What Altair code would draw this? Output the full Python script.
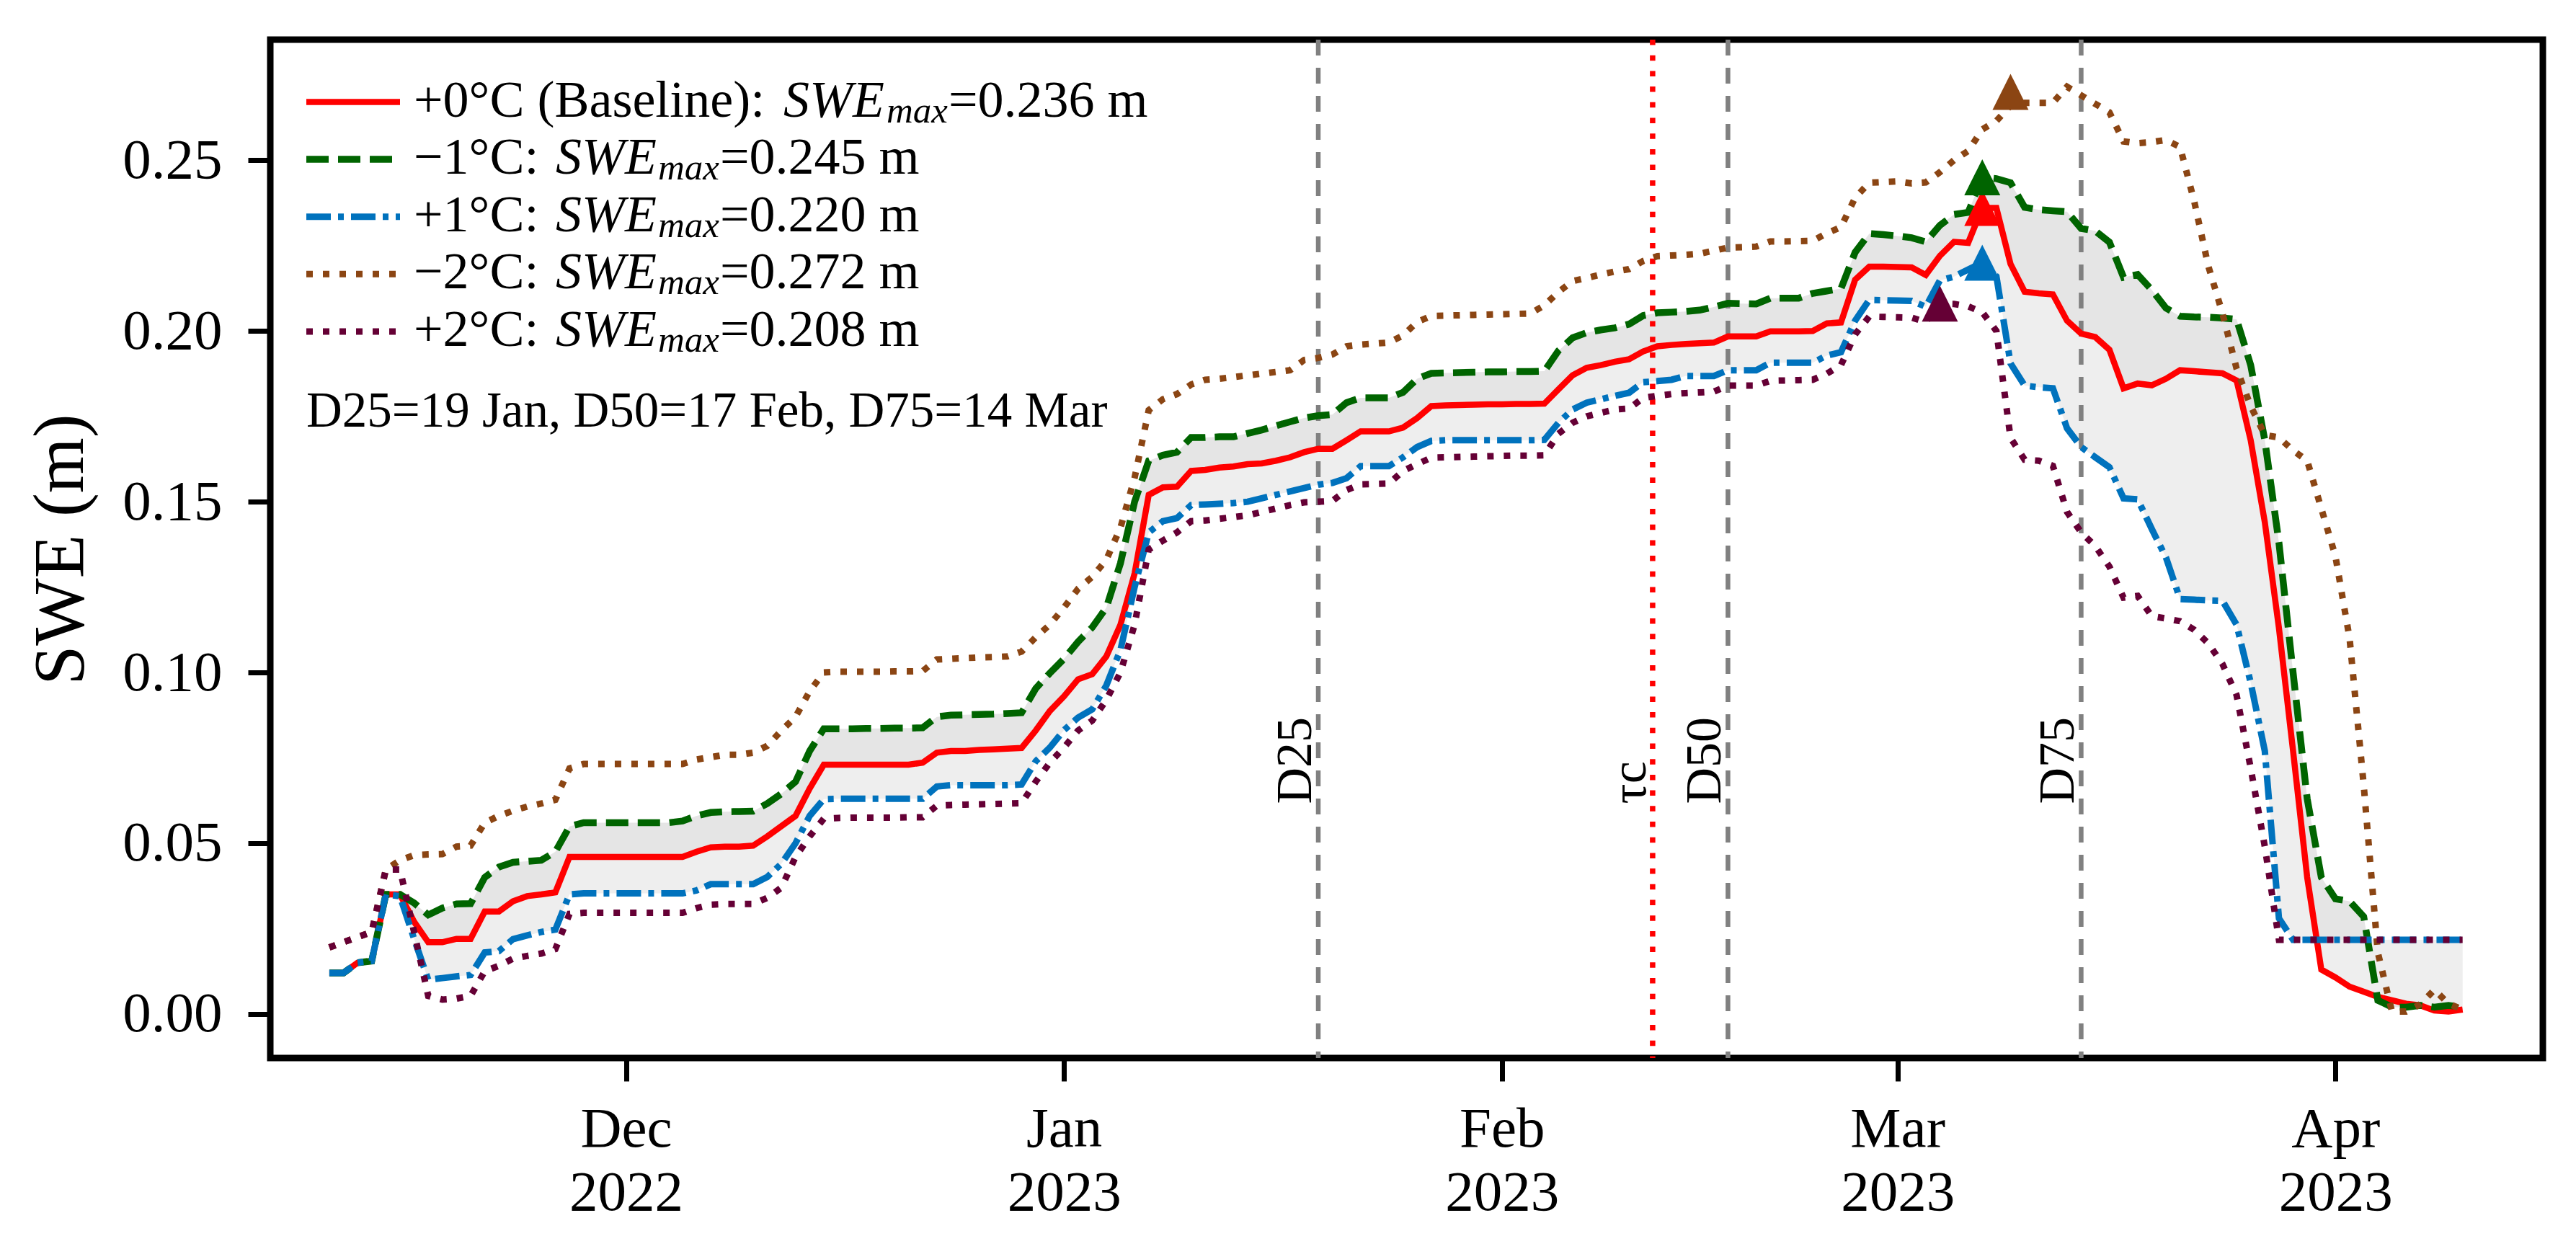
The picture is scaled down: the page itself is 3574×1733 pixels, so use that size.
import altair as alt
import pandas as pd

FONT = "Liberation Serif"

# daily SWE (m), 10 Nov 2022 .. 10 Apr 2023
first_day = "2022-11-10"

swe_base = [
    0.012, 0.012, 0.015, 0.0155, 0.035, 0.035, 0.027, 0.021, 0.021, 0.022,
    0.022, 0.030, 0.030, 0.033, 0.0345, 0.035, 0.0356, 0.046, 0.046, 0.046,
    0.046, 0.046, 0.046, 0.046, 0.046, 0.046, 0.0475, 0.0488, 0.049, 0.049,
    0.0493, 0.052, 0.055, 0.058, 0.066, 0.073, 0.073, 0.073, 0.073, 0.073,
    0.073, 0.073, 0.0736, 0.0765, 0.077, 0.077, 0.0773, 0.0775, 0.0777, 0.0779,
    0.083, 0.0887, 0.093, 0.098, 0.0995, 0.1047, 0.114, 0.129, 0.152, 0.1542,
    0.1544, 0.159, 0.1593, 0.160, 0.1603, 0.161, 0.1612, 0.162, 0.163, 0.1645,
    0.1655, 0.1655, 0.168, 0.1706, 0.1706, 0.1706, 0.1717, 0.1745, 0.178, 0.1782,
    0.1783, 0.1784, 0.1785, 0.1785, 0.1786, 0.1786, 0.1787, 0.1829, 0.187, 0.1892,
    0.190, 0.191, 0.1917, 0.194, 0.1955, 0.1959, 0.1962, 0.1964, 0.1966, 0.1984,
    0.1984, 0.1984, 0.1999, 0.1999, 0.1999, 0.200, 0.2022, 0.2025, 0.215, 0.2188,
    0.2188, 0.2187, 0.2186, 0.2164, 0.222, 0.2261, 0.2258, 0.236, 0.236, 0.2196,
    0.2115, 0.211, 0.2107, 0.203, 0.1992, 0.1982, 0.1945, 0.1832, 0.1846, 0.1841,
    0.186, 0.1885, 0.1882, 0.1879, 0.1876, 0.1855, 0.168, 0.144, 0.113, 0.077,
    0.040, 0.013, 0.0107, 0.008, 0.0065, 0.005, 0.004, 0.003, 0.0025, 0.001,
    0.0007, 0.0013,
]
swe_minus1 = [
    0.012, 0.012, 0.015, 0.0155, 0.035, 0.035, 0.0325, 0.029, 0.031, 0.0322,
    0.0323, 0.040, 0.043, 0.0444, 0.0447, 0.045, 0.0475, 0.0549, 0.056, 0.056,
    0.056, 0.056, 0.056, 0.056, 0.056, 0.0565, 0.058, 0.059, 0.0592, 0.0593,
    0.0594, 0.0616, 0.0645, 0.068, 0.077, 0.0835, 0.0835, 0.0835, 0.0836, 0.0836,
    0.0837, 0.0837, 0.0838, 0.087, 0.0875, 0.0876, 0.0877, 0.0878, 0.088, 0.0882,
    0.0953, 0.0998, 0.104, 0.109, 0.1132, 0.119, 0.132, 0.150, 0.162, 0.1636,
    0.1645, 0.1688, 0.1688, 0.169, 0.169, 0.170, 0.171, 0.1722, 0.1734, 0.1745,
    0.1752, 0.1755, 0.179, 0.1804, 0.1804, 0.1804, 0.182, 0.186, 0.1876, 0.1877,
    0.1878, 0.1879, 0.188, 0.188, 0.1881, 0.1881, 0.1882, 0.1942, 0.198, 0.1995,
    0.2003, 0.2009, 0.202, 0.2045, 0.2053, 0.2055, 0.2057, 0.2061, 0.207, 0.2081,
    0.208, 0.2079, 0.2096, 0.2096, 0.2096, 0.211, 0.2117, 0.2124, 0.223, 0.2285,
    0.2282, 0.2278, 0.2273, 0.2261, 0.2309, 0.2341, 0.2347, 0.245, 0.2446, 0.2434,
    0.2362, 0.2355, 0.2352, 0.2349, 0.230, 0.2293, 0.226, 0.2157, 0.2165, 0.212,
    0.2067, 0.2043, 0.2041, 0.204, 0.2038, 0.2034, 0.190, 0.168, 0.138, 0.100,
    0.063, 0.040, 0.0337, 0.033, 0.0285, 0.004, 0.002, 0.002, 0.0025, 0.002,
    0.0025, 0.002,
]
swe_plus1 = [
    0.012, 0.012, 0.015, 0.0155, 0.035, 0.0345, 0.022, 0.010, 0.0105, 0.011,
    0.0114, 0.018, 0.0184, 0.0219, 0.023, 0.024, 0.0247, 0.035, 0.0353, 0.0353,
    0.0353, 0.0353, 0.0353, 0.0353, 0.0353, 0.0353, 0.0362, 0.038, 0.038, 0.038,
    0.038, 0.0401, 0.044, 0.050, 0.058, 0.0629, 0.063, 0.063, 0.063, 0.063,
    0.063, 0.063, 0.063, 0.0666, 0.067, 0.067, 0.067, 0.067, 0.067, 0.0672,
    0.074, 0.078, 0.0831, 0.0868, 0.0892, 0.0962, 0.1066, 0.125, 0.141, 0.1443,
    0.1452, 0.149, 0.1492, 0.1494, 0.1496, 0.150, 0.151, 0.152, 0.153, 0.154,
    0.155, 0.1555, 0.1569, 0.1604, 0.1604, 0.1604, 0.163, 0.166, 0.1678, 0.168,
    0.168, 0.168, 0.168, 0.168, 0.168, 0.168, 0.1681, 0.1731, 0.177, 0.179,
    0.180, 0.181, 0.1819, 0.185, 0.1853, 0.1857, 0.1868, 0.1868, 0.1868, 0.1885,
    0.1885, 0.1885, 0.1907, 0.1907, 0.1907, 0.1907, 0.1928, 0.1938, 0.203, 0.2091,
    0.209, 0.2089, 0.2088, 0.2071, 0.2148, 0.2159, 0.218, 0.220, 0.216, 0.1905,
    0.184, 0.1835, 0.1832, 0.1715, 0.166, 0.163, 0.1601, 0.151, 0.1507, 0.142,
    0.1337, 0.1215, 0.1213, 0.1211, 0.121, 0.114, 0.097, 0.077, 0.028, 0.0217,
    0.0217, 0.0217, 0.0217, 0.0217, 0.0217, 0.0217, 0.0217, 0.0217, 0.0217, 0.0217,
    0.0217, 0.0217,
]
swe_minus2 = [
    0.0195, 0.021, 0.0225, 0.024, 0.0423, 0.045, 0.0465, 0.0467, 0.0468, 0.049,
    0.0493, 0.056, 0.058, 0.0595, 0.0607, 0.0616, 0.0627, 0.0719, 0.0732, 0.0732,
    0.0732, 0.0732, 0.0732, 0.0732, 0.0732, 0.0732, 0.0745, 0.0752, 0.0759, 0.0759,
    0.0765, 0.0785, 0.083, 0.087, 0.0945, 0.100, 0.1002, 0.1002, 0.1002, 0.1002,
    0.1003, 0.1003, 0.1004, 0.1038, 0.104, 0.1042, 0.1044, 0.1045, 0.1047, 0.1061,
    0.1103, 0.114, 0.119, 0.1245, 0.128, 0.133, 0.1424, 0.157, 0.1768, 0.180,
    0.1815, 0.1843, 0.1857, 0.186, 0.1865, 0.187, 0.1875, 0.188, 0.1885, 0.1915,
    0.1921, 0.1931, 0.1955, 0.196, 0.1963, 0.1966, 0.1987, 0.2026, 0.2044, 0.2045,
    0.2046, 0.2047, 0.2048, 0.2049, 0.205, 0.2051, 0.2075, 0.2114, 0.2146, 0.2155,
    0.2165, 0.2174, 0.2181, 0.2205, 0.2219, 0.2221, 0.2223, 0.2226, 0.2235, 0.2244,
    0.2245, 0.2247, 0.2262, 0.2262, 0.2263, 0.2264, 0.2286, 0.2304, 0.239, 0.2434,
    0.2436, 0.2438, 0.2432, 0.2435, 0.2465, 0.250, 0.2527, 0.259, 0.2615, 0.266,
    0.2668, 0.2668, 0.2668, 0.2715, 0.269, 0.2665, 0.264, 0.2555, 0.255, 0.2553,
    0.2559, 0.2539, 0.238, 0.219, 0.2052, 0.189, 0.178, 0.1695, 0.1688, 0.165,
    0.162, 0.148, 0.134, 0.110, 0.067, 0.018, 0.0007, 0.0007, 0.0028, 0.0071,
    0.003, 0.0013,
]
swe_plus2 = [
    0.0195, 0.021, 0.0225, 0.024, 0.0423, 0.0423, 0.024, 0.0053, 0.0042, 0.0045,
    0.0053, 0.0125, 0.0141, 0.0162, 0.017, 0.0177, 0.019, 0.0293, 0.0296, 0.0296,
    0.0296, 0.0296, 0.0296, 0.0296, 0.0296, 0.0296, 0.031, 0.032, 0.0322, 0.0322,
    0.0322, 0.034, 0.037, 0.046, 0.052, 0.0572, 0.0574, 0.0575, 0.0575, 0.0575,
    0.0575, 0.0576, 0.0576, 0.061, 0.0612, 0.0613, 0.0614, 0.0615, 0.0616, 0.0617,
    0.068, 0.0736, 0.078, 0.083, 0.0859, 0.092, 0.100, 0.114, 0.136, 0.1386,
    0.141, 0.1443, 0.1445, 0.145, 0.1455, 0.146, 0.147, 0.148, 0.149, 0.1498,
    0.150, 0.1502, 0.1534, 0.1551, 0.1552, 0.1553, 0.159, 0.161, 0.1629, 0.163,
    0.1631, 0.1632, 0.1633, 0.1634, 0.1635, 0.1635, 0.1636, 0.1699, 0.1731, 0.175,
    0.176, 0.177, 0.1773, 0.1804, 0.181, 0.1815, 0.1818, 0.182, 0.1822, 0.184,
    0.184, 0.184, 0.1854, 0.1855, 0.1856, 0.1857, 0.1875, 0.190, 0.199, 0.2042,
    0.2041, 0.204, 0.2039, 0.2026, 0.208, 0.2079, 0.2072, 0.2055, 0.200, 0.1687,
    0.1623, 0.162, 0.1605, 0.147, 0.141, 0.137, 0.131, 0.1219, 0.1224, 0.1165,
    0.1158, 0.115, 0.1125, 0.1085, 0.1025, 0.0934, 0.072, 0.049, 0.0217, 0.0217,
    0.0217, 0.0217, 0.0217, 0.0217, 0.0217, 0.0217, 0.0217, 0.0217, 0.0217, 0.0217,
    0.0217, 0.0217,
]

scenario_cols = ["base", "minus1", "plus1", "minus2", "plus2"]
scenario_names = ["+0°C (Baseline): ", "−1°C: ", "+1°C: ", "−2°C: ", "+2°C: "]
swe_max_text = ["=0.236 m", "=0.245 m", "=0.220 m", "=0.272 m", "=0.208 m"]

# peak markers
peak_dates = ["2023-03-07T00:00:00", "2023-03-07T00:00:00", "2023-03-07T00:00:00",
              "2023-03-09T00:00:00", "2023-03-04T00:00:00"]
peak_swe = [0.236, 0.245, 0.220, 0.270, 0.208]

# timing lines
event_names = ["D25", "τc", "D50", "D75"]
event_dates = ["2023-01-19T00:00:00", "2023-02-11T16:00:00",
               "2023-02-17T00:00:00", "2023-03-14T00:00:00"]
summary_text = "D25=19 Jan, D50=17 Feb, D75=14 Mar"

month_ticks = [(2022, 12), (2023, 1), (2023, 2), (2023, 3), (2023, 4)]
y_ticks = [0.0, 0.05, 0.10, 0.15, 0.20, 0.25]

styles = {
    "base": dict(color="#ff0000", strokeWidth=8.5),
    "minus1": dict(color="#006400", strokeWidth=9.5, strokeDash=[31, 13]),
    "plus1": dict(color="#0072bd", strokeWidth=9, strokeDash=[34, 10, 8, 10]),
    "minus2": dict(color="#8b4513", strokeWidth=9, strokeDash=[9, 14]),
    "plus2": dict(color="#650035", strokeWidth=9, strokeDash=[9, 14]),
}

days = pd.date_range(first_day, periods=len(swe_base), freq="D")
df = pd.DataFrame({"date": days, "base": swe_base, "minus1": swe_minus1,
                   "plus1": swe_plus1, "minus2": swe_minus2, "plus2": swe_plus2})

x_scale = alt.Scale(domain=[alt.DateTime(year=2022, month=11, date=5, hours=19, minutes=41),
                            alt.DateTime(year=2023, month=4, date=15, hours=16, minutes=19)],
                    nice=False)
y_scale = alt.Scale(domain=[-0.0129, 0.2853], zero=False, nice=False)

x_axis = alt.Axis(
    values=[alt.DateTime(year=y, month=m, date=1) for y, m in month_ticks],
    labelExpr="[timeFormat(datum.value, '%b'), timeFormat(datum.value, '%Y')]",
    title=None, labelFontSize=79, labelLineHeight=88, labelPadding=28,
    tickSize=32, tickWidth=7, labelOverlap=False, labelAlign="center",
    labelBaseline="top",
)
y_axis = alt.Axis(
    values=y_ticks, format=".2f", title="SWE (m)", labelFontSize=79,
    labelPadding=36, tickSize=31, tickWidth=7, titleFontSize=99,
    titleFontWeight="normal", titleAngle=270, titleX=-291, titleY=707,
    titleAlign="center", titleBaseline="middle",
)


def X(field="date"):
    return alt.X(field + ":T", scale=x_scale, axis=x_axis)


def Y(field):
    return alt.Y(field + ":Q", scale=y_scale, axis=y_axis)


layers = []

# shaded band between -1 and +1 scenarios
layers.append(alt.Chart(df).mark_area(color="#e5e5e5").encode(
    x=X(), y=Y("minus1"), y2="base:Q"))
layers.append(alt.Chart(df).mark_area(color="#eeeeee").encode(
    x=X(), y=Y("base"), y2="plus1:Q"))

ev = pd.DataFrame({"date": pd.to_datetime(event_dates), "name": event_names,
                   "swe": [0.0615] * len(event_names)})
layers.append(alt.Chart(ev[ev["name"] != "τc"]).mark_rule(
    color="#808080", strokeWidth=6.5, strokeDash=[22, 17]).encode(x=X()))
layers.append(alt.Chart(ev[ev["name"] == "τc"]).mark_rule(
    color="#ff0000", strokeWidth=7.5, strokeDash=[7.5, 14.2]).encode(x=X()))

for col in scenario_cols:
    layers.append(alt.Chart(df).mark_line(**styles[col]).encode(x=X(), y=Y(col)))

pk = pd.DataFrame({"date": pd.to_datetime(peak_dates), "swe": peak_swe,
                   "color": [styles[c]["color"] for c in scenario_cols]})
layers.append(alt.Chart(pk).mark_point(
    shape="M0,-1L-1,1L1,1Z", filled=True, size=2500, opacity=1).encode(
    x=X(), y=Y("swe"), color=alt.Color("color:N", scale=None)))

layers.append(alt.Chart(ev).mark_text(
    angle=270, align="left", baseline="alphabetic", dy=-10, fontSize=70,
    font=FONT, color="black").encode(x=X(), y=Y("swe"), text="name:N"))

# legend drawn by hand (italic SWE with subscript)
one = pd.DataFrame({"k": [0]})


def txt(s, x, y, size, italic=False):
    return alt.Chart(one).mark_text(
        text=s, align="left", baseline="alphabetic", fontSize=size, font=FONT,
        fontStyle="italic" if italic else "normal", color="black",
    ).encode(x=alt.value(x), y=alt.value(y))


for i, col in enumerate(scenario_cols):
    base_y = 106.5 + 79.6 * i
    st = dict(styles[col])
    layers.append(alt.Chart(one).mark_rule(**st).encode(
        x=alt.value(50), x2=alt.value(180), y=alt.value(base_y - 20)))
    if i == 0:
        xs = (712, 855, 941)
    else:
        xs = (396, 538, 624)
    layers.append(txt(scenario_names[i], 199, base_y, 72))
    layers.append(txt("SWE", xs[0], base_y, 72, italic=True))
    layers.append(txt("max", xs[1], base_y + 8, 51, italic=True))
    layers.append(txt(swe_max_text[i], xs[2], base_y, 72))

layers.append(txt(summary_text, 50, 537, 69))

chart = alt.layer(*layers).properties(
    width=3153, height=1413,
    autosize=alt.AutoSizeParams(type="none"),
    padding={"left": 367, "top": 47, "right": 38, "bottom": 250},
).configure(font=FONT).configure_view(
    stroke="black", strokeWidth=9
).configure_axis(
    labelFont=FONT, titleFont=FONT, labelColor="black", titleColor="black",
    tickColor="black", domain=False, grid=False,
)

chart.save("out.html", embed_options={"renderer": "svg", "actions": False})
